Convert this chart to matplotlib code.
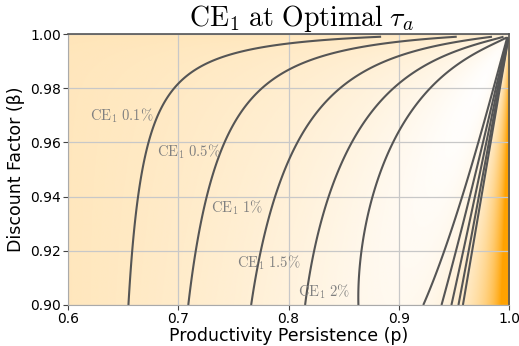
import numpy as np
import matplotlib.pyplot as plt
from matplotlib.colors import LinearSegmentedColormap

plt.rcParams['mathtext.fontset'] = 'cm'

# contour levels of the consumption-equivalent gain (%)
levels = [0.1, 0.5, 1.0, 1.5, 2.0]
label_text = [r'$\mathrm{CE}_1\ 0.1\%$', r'$\mathrm{CE}_1\ 0.5\%$', r'$\mathrm{CE}_1\ 1\%$',
              r'$\mathrm{CE}_1\ 1.5\%$', r'$\mathrm{CE}_1\ 2\%$']
label_p = [0.677, 0.738, 0.777, 0.8105, 0.856]
label_beta = [0.970, 0.9565, 0.9358, 0.9155, 0.905]

x_ticks = [0.6, 0.7, 0.8, 0.9, 1.0]
y_ticks = [0.90, 0.92, 0.94, 0.96, 0.98, 1.00]


def ce_gain(p, beta):
    # CE1 at the optimal tau_a, as a function of persistence and discounting
    a = 1 - p
    b = 1 - beta
    slope = 2.35 * (b / 0.1) ** 0.36
    a0 = 0.37 * np.sqrt(b / (b + 0.0055))
    base = slope * np.log(a0 / a)
    ramp = 1 - np.exp(-(a / b - 0.41) / 0.4545)
    return base * ramp


# grid for contour lines
p = np.linspace(0.6, 0.999, 500)
beta = np.linspace(0.9, 0.999, 400)
P, B = np.meshgrid(p, beta)
CE = ce_gain(P, B)

# cell-centred grid for the background image
n = 500
pc = 0.6 + (np.arange(n) + 0.5) * 0.4 / n
bc = 0.9 + (np.arange(n) + 0.5) * 0.1 / n
PC, BC = np.meshgrid(pc, bc)
CE_img = ce_gain(PC, BC)

cmap = LinearSegmentedColormap.from_list('orange_white', ['#ffa200', '#ffffff'])

fig = plt.figure(figsize=(5.19, 3.46), dpi=100)
ax = fig.add_axes([0.131, 0.1185, 0.85, 0.7832])

ax.imshow(CE_img, extent=[0.6, 1.0, 0.9, 1.0], origin='lower', aspect='auto',
          cmap=cmap, vmin=-9.5, vmax=3.0, interpolation='bilinear', zorder=0)
ax.contour(P, B, CE, levels=levels, colors='#555555', linewidths=1.5, zorder=2)

for txt, xp, yb in zip(label_text, label_p, label_beta):
    ax.text(xp, yb, txt, ha='right', va='center', fontsize=10.5, color='#808080', zorder=3)

ax.grid(True, color='#c8c8c8', linewidth=0.9)
ax.set_xlim(0.6, 1.0)
ax.set_ylim(0.9, 1.0)
ax.set_xticks(x_ticks)
ax.set_xticklabels(['0.6', '0.7', '0.8', '0.9', '1.0'])
ax.set_yticks(y_ticks)
ax.set_yticklabels(['%.2f' % v for v in y_ticks])
ax.tick_params(labelsize=10, color='#444444', pad=1.5)

for side in ['left', 'bottom']:
    ax.spines[side].set_color('#aaaaaa')
for side in ['top', 'right']:
    ax.spines[side].set_color('#555555')
    ax.spines[side].set_linewidth(1.2)

ax.set_title(r'$\mathrm{CE}_1\ \mathrm{at\ Optimal}\ \tau_a$', fontsize=20, pad=4, x=0.53)
ax.set_xlabel('Productivity Persistence (p)', fontsize=12.5, labelpad=1)
ax.set_ylabel('Discount Factor (β)', fontsize=12.5, labelpad=4)

fig.savefig('out.png', dpi=100)
